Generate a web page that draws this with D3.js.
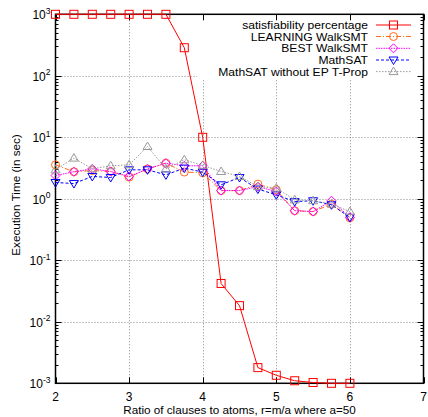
<!DOCTYPE html>
<html><head><meta charset="utf-8">
<script src="https://cdn.jsdelivr.net/npm/d3@7"></script>
<style>body{margin:0;background:#fff}svg{display:block;font-family:"Liberation Sans",Arial,sans-serif}</style>
</head><body><svg id="c" width="428" height="417"></svg>
<script>
const ratios = [2,2.25,2.5,2.75,3,3.25,3.5,3.75,4,4.25,4.5,4.75,5,5.25,5.5,5.75,6];
const satisfiability = [1000,1000,1000,1000,1000,1000,1000,286,10,0.042,0.0183,0.0018,0.00135,0.0011,0.00103,0.001,0.001];
const learningWalkSMT = [3.57,2.75,2.88,2.78,2.25,3.07,3.8,2.72,2.65,1.36,1.36,1.73,1.4,0.64,0.62,0.82,0.49];
const bestWalkSMT = [2.39,2.75,3.07,2.78,2.31,3.04,3.8,3.44,3.44,1.36,1.36,1.58,1.31,0.64,0.62,0.93,0.5];
const mathSAT = [1.84,1.77,2.31,2.22,2.96,2.96,2.45,3.16,2.72,1.69,2.22,1.44,1.16,0.9,0.93,0.8,0.5];
const mathSATnoEP = [2.96,4.59,3.07,3.44,3.57,7.08,3.07,4.31,3.5,2.78,2.31,1.58,1.49,0.96,0.93,0.82,0.62];
const seriesNames = ["satisfiability percentage","LEARNING WalkSMT","BEST WalkSMT","MathSAT","MathSAT without EP T-Prop"];
const xTicks = [2,3,4,5,6,7];
const yTickExps = [-3,-2,-1,0,1,2,3];
const xLabel = "Ratio of clauses to atoms, r=m/a where a=50";
const yLabel = "Execution Time (in sec)";

const series = [
  {name:seriesNames[0], values:satisfiability, color:"#ff0000", dash:null, marker:"square"},
  {name:seriesNames[1], values:learningWalkSMT, color:"#ff6a1a", dash:"5,2,1,2", marker:"circle"},
  {name:seriesNames[2], values:bestWalkSMT, color:"#ff00ff", dash:"1.5,1", marker:"diamond"},
  {name:seriesNames[3], values:mathSAT, color:"#0000ff", dash:"3,2", marker:"tridown"},
  {name:seriesNames[4], values:mathSATnoEP, color:"#999999", dash:"1.5,1.5", marker:"triup"}
];

const svg = d3.select("#c");
const L=55.5, R=423.5, T=14.3, B=383.3;
const x = d3.scaleLinear().domain([2,7]).range([L,R]);
const y = d3.scaleLog().domain([1e-3,1e3]).range([B,T]);

const key = {x0:197, x1:R, y0:17, y1:79};

const grid = svg.append("g").attr("stroke","#888").attr("stroke-width",1).attr("stroke-dasharray","1,2");
xTicks.filter(t=>t>2&&t<7).forEach(t=>{
  const px = Math.round(x(t))+0.5;
  grid.append("line").attr("x1",px).attr("x2",px).attr("y1",T).attr("y2",B);
});
yTickExps.filter(e=>e>-3&&e<3).forEach(e=>{
  const py = Math.round(y(Math.pow(10,e)))+0.5;
  grid.append("line").attr("x1",L).attr("x2",R).attr("y1",py).attr("y2",py);
});
svg.append("rect").attr("x",key.x0).attr("y",key.y0).attr("width",key.x1-key.x0).attr("height",key.y1-key.y0).attr("fill","#fff");

const tk = svg.append("g").attr("stroke","#000").attr("stroke-width",1);
xTicks.forEach(t=>{
  const px = Math.round(x(t))+0.5;
  tk.append("line").attr("x1",px).attr("x2",px).attr("y1",B).attr("y2",B-6);
  tk.append("line").attr("x1",px).attr("x2",px).attr("y1",T).attr("y2",T+6);
});
yTickExps.forEach(e=>{
  const py = Math.round(y(Math.pow(10,e)))+0.5;
  tk.append("line").attr("x1",L).attr("x2",L+6).attr("y1",py).attr("y2",py);
  tk.append("line").attr("x1",R).attr("x2",R-6).attr("y1",py).attr("y2",py);
  if(e<3){
    for(let m=2;m<=9;m++){
      const pm = Math.round(y(m*Math.pow(10,e)))+0.5;
      tk.append("line").attr("x1",L).attr("x2",L+3).attr("y1",pm).attr("y2",pm);
      tk.append("line").attr("x1",R).attr("x2",R-3).attr("y1",pm).attr("y2",pm);
    }
  }
});

svg.append("rect").attr("x",L).attr("y",T).attr("width",R-L).attr("height",B-T)
  .attr("fill","none").attr("stroke","#000").attr("stroke-width",1.5);

xTicks.forEach(t=>{
  svg.append("text").attr("x",x(t)).attr("y",400.5).attr("text-anchor","middle")
    .attr("font-size",12).text(t);
});
yTickExps.forEach(e=>{
  const tx = svg.append("text").attr("x",50.5).attr("y",y(Math.pow(10,e))+5).attr("text-anchor","end").attr("font-size",12);
  tx.append("tspan").text("10");
  tx.append("tspan").attr("dy",-5.5).attr("font-size",8.5).text(e);
});
svg.append("text").attr("x",239.5).attr("y",414).attr("text-anchor","middle").attr("font-size",11.7).text(xLabel);
svg.append("text").attr("transform","translate(19.5,195) rotate(-90)").attr("text-anchor","middle").attr("font-size",11.7).text(yLabel);

function marker(g, kind, cx, cy, color){
  let el;
  if(kind==="square") el=g.append("rect").attr("x",cx-4).attr("y",cy-4).attr("width",8).attr("height",8);
  else if(kind==="circle") el=g.append("circle").attr("cx",cx).attr("cy",cy).attr("r",4);
  else if(kind==="diamond") el=g.append("path").attr("d",`M${cx},${cy-4.5}L${cx+4.5},${cy}L${cx},${cy+4.5}L${cx-4.5},${cy}Z`);
  else if(kind==="tridown") el=g.append("path").attr("d",`M${cx-4.5},${cy-3}L${cx+4.5},${cy-3}L${cx},${cy+4.5}Z`);
  else el=g.append("path").attr("d",`M${cx-4.5},${cy+3}L${cx+4.5},${cy+3}L${cx},${cy-4.5}Z`);
  el.attr("fill","none").attr("stroke",color).attr("stroke-width",1);
}

const line = d3.line().x((d,i)=>x(ratios[i])).y(d=>y(d));
series.forEach(s=>{
  const g = svg.append("g");
  g.append("path").attr("d",line(s.values)).attr("fill","none").attr("stroke",s.color)
    .attr("stroke-width",1).attr("stroke-dasharray",s.dash);
  s.values.forEach((v,i)=>marker(g,s.marker,x(ratios[i]),y(v),s.color));
});

const rowsY = [25,36.5,48.3,60,71.6];
series.forEach((s,i)=>{
  const ly = rowsY[i];
  const t = svg.append("text").attr("x",368).attr("y",ly+4).attr("text-anchor","end").attr("font-size",11).text(s.name);
  const w = t.node().getComputedTextLength();
  t.attr("textLength",w*1.1).attr("lengthAdjust","spacingAndGlyphs");
  svg.append("line").attr("x1",376).attr("x2",411).attr("y1",ly).attr("y2",ly)
    .attr("stroke",s.color).attr("stroke-width",1).attr("stroke-dasharray",s.dash);
  marker(svg,s.marker,393.5,ly,s.color);
});
</script></body></html>
